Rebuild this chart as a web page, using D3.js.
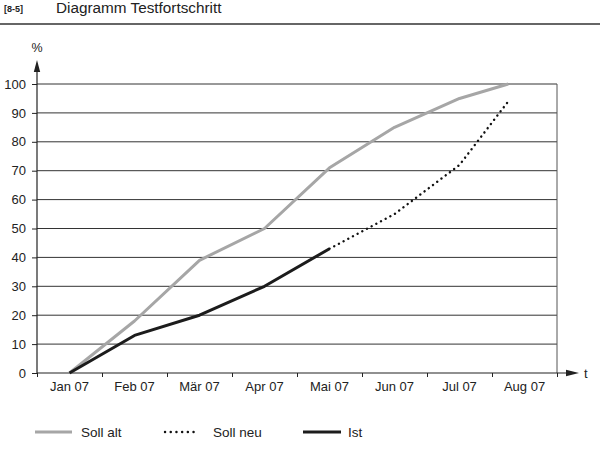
<!DOCTYPE html>
<html><head><meta charset="utf-8">
<script src="https://cdn.jsdelivr.net/npm/d3@7"></script>
<style>body{margin:0;background:#fff}svg{display:block;font-family:"Liberation Sans",Arial,sans-serif}</style>
</head><body>
<svg id="c" width="600" height="449"></svg>
<script>
const months = ["Jan 07","Feb 07","Mär 07","Apr 07","Mai 07","Jun 07","Jul 07","Aug 07"];
const yTicks = [0,10,20,30,40,50,60,70,80,90,100];
const sollAltX = [0,1,2,3,4,5,6,6.75];
const sollAltY = [0,18,39,50,71,85,95,100];
const sollNeuX = [4,5,6,6.75];
const sollNeuY = [43,55,72,94];
const istX = [0,1,2,3,4];
const istY = [0,13,20,30,43];
const legendItems = ["Soll alt","Soll neu","Ist"];

const svg = d3.select("#c");
const L = 37, R = 557, T = 84, B = 373;
const xBand = d3.scaleBand().domain(months).range([L, R]);
const x = d3.scaleLinear().domain([-0.5, months.length - 0.5]).range([L, R]);
const y = d3.scaleLinear().domain([0, 100]).range([B, T]);

// header
svg.append("text").attr("x",4).attr("y",12).attr("font-size",9).attr("font-weight","bold").attr("fill","#222").text("[8-5]");
svg.append("text").attr("x",56).attr("y",12.5).attr("font-size",15.3).attr("fill","#222").text("Diagramm Testfortschritt");
svg.append("line").attr("x1",0).attr("x2",600).attr("y1",24).attr("y2",24).attr("stroke","#333").attr("stroke-width",1.6);

// gridlines
svg.append("g").selectAll("line").data(yTicks.filter(d=>d>0)).join("line")
  .attr("x1",L).attr("x2",R).attr("y1",d=>y(d)).attr("y2",d=>y(d))
  .attr("stroke","#333").attr("stroke-width",1);
// right border
svg.append("line").attr("x1",R).attr("x2",R).attr("y1",y(100)).attr("y2",B).attr("stroke","#555").attr("stroke-width",1);

// y axis
const yAx = svg.append("g").attr("transform",`translate(${L},0)`)
  .call(d3.axisLeft(y).tickValues(yTicks).tickSize(5).tickPadding(6));
yAx.select(".domain").remove();
yAx.selectAll("line").attr("stroke","#222");
yAx.selectAll("text").attr("font-size",13).attr("fill","#222").attr("font-family","Liberation Sans, Arial, sans-serif");
svg.append("line").attr("x1",L).attr("x2",L).attr("y1",B).attr("y2",70).attr("stroke","#222").attr("stroke-width",1.2);
svg.append("path").attr("d",`M${L},60 L${L-3.2},72 L${L+3.2},72 Z`).attr("fill","#222");
svg.append("text").attr("x",L).attr("y",52).attr("text-anchor","middle").attr("font-size",12.5).attr("fill","#222").text("%");

// x axis
const xAx = svg.append("g").attr("transform",`translate(0,${B})`)
  .call(d3.axisBottom(x).tickValues(d3.range(-0.5, months.length, 1)).tickSize(4).tickFormat(""));
xAx.select(".domain").remove();
xAx.selectAll("line").attr("stroke","#222");
const xLab = svg.append("g").attr("transform",`translate(0,${B})`)
  .call(d3.axisBottom(xBand).tickSize(0).tickPadding(9));
xLab.select(".domain").remove();
xLab.selectAll("text").attr("font-size",13).attr("fill","#222").attr("font-family","Liberation Sans, Arial, sans-serif");
svg.append("line").attr("x1",L).attr("x2",568).attr("y1",B).attr("y2",B).attr("stroke","#222").attr("stroke-width",1.2);
svg.append("path").attr("d",`M579,${B} L566,${B-3.2} L566,${B+3.2} Z`).attr("fill","#222");
svg.append("text").attr("x",584).attr("y",B+5).attr("font-size",13).attr("fill","#222").text("t");

// lines
const line = d3.line().x(d=>x(d[0])).y(d=>y(d[1]));
svg.append("path").datum(d3.zip(sollAltX, sollAltY)).attr("d",line)
  .attr("fill","none").attr("stroke","#a6a6a6").attr("stroke-width",3).attr("stroke-linejoin","round");
svg.append("path").datum(d3.zip(istX, istY)).attr("d",line)
  .attr("fill","none").attr("stroke","#1c1c1c").attr("stroke-width",3).attr("stroke-linejoin","round");
svg.append("path").datum(d3.zip(sollNeuX, sollNeuY)).attr("d",line)
  .attr("fill","none").attr("stroke","#111").attr("stroke-width",2.4).attr("stroke-linecap","round").attr("stroke-dasharray","0.1,5.2");

// legend
const lg = [
  {x1:35,x2:72,tx:81,stroke:"#a6a6a6",w:3,dash:null},
  {x1:165,x2:195,tx:213,stroke:"#111",w:2.4,dash:"0.1,5.6"},
  {x1:303,x2:341,tx:348,stroke:"#1c1c1c",w:3,dash:null}
];
const lgG = svg.append("g");
legendItems.forEach((name,i)=>{
  const s = lg[i];
  const ln = lgG.append("line").attr("x1",s.x1).attr("x2",s.x2).attr("y1",432).attr("y2",432)
    .attr("stroke",s.stroke).attr("stroke-width",s.w);
  if (s.dash) ln.attr("stroke-dasharray",s.dash).attr("stroke-linecap","round");
  lgG.append("text").attr("x",s.tx).attr("y",437).attr("font-size",13.5).attr("fill","#222").text(name);
});
</script>
</body></html>
